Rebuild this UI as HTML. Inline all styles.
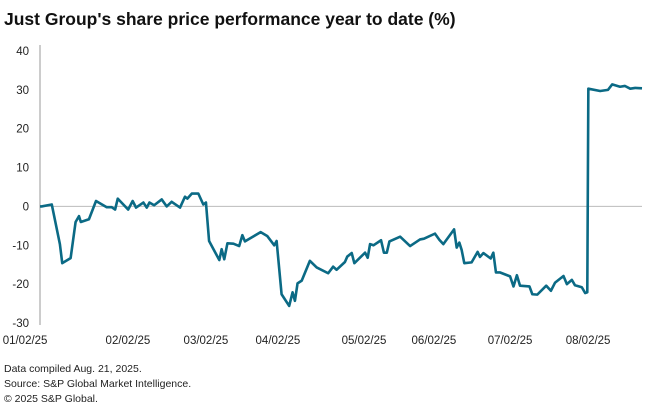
<!DOCTYPE html>
<html><head><meta charset="utf-8"><style>
body{margin:0;background:#fff;font-family:"Liberation Sans",sans-serif;}
#wrap{position:relative;width:660px;height:417px;overflow:hidden;}
.t{position:absolute;left:4px;top:9px;font-size:17.5px;font-weight:bold;color:#111;}
.f{position:absolute;left:4px;font-size:10.5px;color:#222;}
</style></head><body>
<div id="wrap">
<div class="t">Just Group's share price performance year to date (%)</div>
<svg id="c" width="660" height="417" style="position:absolute;left:0;top:0"></svg>
<div class="f" style="top:363px">Data compiled Aug. 21, 2025.</div>
<div class="f" style="top:378px">Source: S&amp;P Global Market Intelligence.</div>
<div class="f" style="top:393px">© 2025 S&amp;P Global.</div>
</div>
<script>
const days=[0,0.6,4.5,7.6,8.5,11.7,13.6,14.9,15.6,18.7,21.4,25.5,27.4,28.7,29.7,33.7,35.4,36.7,39.5,40.8,41.8,43.6,46.5,48.4,50.3,53.5,55.4,56.3,58,60.5,62.4,63.4,64.6,68.5,69.4,70.4,71.6,73.9,76.1,77.3,78.3,81.8,84.3,86.8,89.5,90.4,92.3,95.2,96.5,97.4,98.4,100,103.1,105.7,110.1,112,113.3,116.5,117.4,119.1,120.1,124.2,125.2,126.1,127.4,130.3,131.4,132.5,133.5,137.6,141.4,145.2,146.7,150.9,152.6,154.1,158.2,159.2,160.2,161.1,162.1,164.9,167.2,168.1,169.4,172.2,173.2,174.2,175.8,179.6,180.9,182.2,183.4,187,188.1,190,193.4,195.2,196.8,200,201.3,203.2,204.4,207,208.3,209.1,209.5,214,217,218.6,221.6,223.5,225.5,227.4,230];
const values=[0,0,0.5,-9.7,-14.6,-13.3,-4,-2.5,-4,-3.3,1.4,-0.2,-0.2,-0.8,2,-0.8,1.4,-0.3,1,-0.3,1,0.3,1.8,0,1.2,-0.3,2.5,2,3.3,3.3,0.5,1,-8.9,-13.8,-11,-13.6,-9.5,-9.6,-10.2,-7.4,-9,-7.6,-6.6,-7.6,-10,-8.9,-22.6,-25.6,-22.1,-24.3,-19.8,-19.1,-14,-15.7,-17.2,-15.5,-16.3,-14.3,-12.9,-12,-14.6,-11.9,-13.2,-9.7,-10,-8.7,-11.9,-11.9,-9,-7.8,-10.2,-8.5,-8.3,-7,-8.6,-9.7,-5.9,-10.6,-9.3,-11.2,-14.6,-14.4,-11.7,-13,-12,-13.4,-11.9,-17,-17,-18,-20.6,-17.7,-20.4,-20.6,-22.6,-22.7,-20.4,-21.7,-19.6,-17.9,-20,-18.9,-20.3,-20.8,-22.3,-22.1,30.3,29.7,30,31.4,30.8,31,30.3,30.5,30.4];
const yTicks=[40,30,20,10,0,-10,-20,-30];
const xTickDays=[-5.7,33.6,63.4,90.9,123.8,150.5,179.6,209.4];
const xTickLabels=["01/02/25","02/02/25","03/02/25","04/02/25","05/02/25","06/02/25","07/02/25","08/02/25"];
const svg=document.getElementById('c');const NS='http://www.w3.org/2000/svg';
const X=d=>40+d*(602/230);const Y=v=>51+(40-v)*(272/70);
function mk(tag,a){const e=document.createElementNS(NS,tag);for(const k in a)e.setAttribute(k,a[k]);svg.appendChild(e);return e;}
let ax=mk('line',{x1:40,x2:40,y1:45,y2:325,stroke:'#999','stroke-width':1});


let zl=mk('line',{x1:40,x2:642,y1:Y(0),y2:Y(0),stroke:'#bbb','stroke-width':1});


yTicks.forEach(v=>{const t=mk('text',{x:29,y:Y(v)+4,'text-anchor':'end','font-size':11.5,fill:'#222','font-family':'Liberation Sans,sans-serif'});t.textContent=v;

});
xTickDays.forEach((d,i)=>{const t=mk('text',{x:X(d),y:344,'text-anchor':'middle','font-size':11.5,fill:'#222','font-family':'Liberation Sans,sans-serif'});t.textContent=xTickLabels[i];

});
const p=mk('polyline',{points:days.map((d,i)=>X(d)+','+Y(values[i])).join(' '),fill:'none',stroke:'#0b6a85','stroke-width':2.6,'stroke-linejoin':'round'});


</script>
</body></html>
